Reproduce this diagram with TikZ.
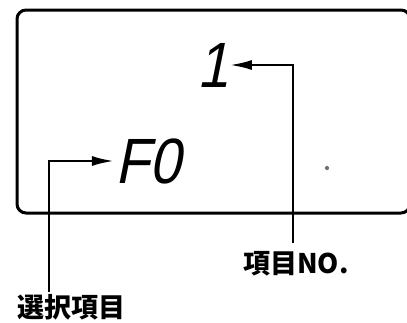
\documentclass[tikz,border=0pt]{standalone}
\usepackage{fontspec}
\newfontfamily\jpfont{Noto Sans CJK JP Black}
\newfontfamily\lcdfont[FakeSlant=0.2,FakeStretch=0.88]{Liberation Sans}
\usetikzlibrary{arrows.meta,positioning}
\tikzset{
  panel/.style={draw=black, line width=3pt, rounded corners=9pt},
  lcd/.style={font=\lcdfont\fontsize{64}{64}\selectfont, inner sep=1pt},
  tag/.style={font=\jpfont\fontsize{27}{27}\selectfont, inner sep=0pt},
  arr/.style={-{Latex[length=22pt,width=10pt]}, line width=2.4pt}
}
\begin{document}
\begin{tikzpicture}[x=1pt, y=-1pt]
  \useasboundingbox (0,0) rectangle (407,322);

  % LCD panel (runs off the right edge)
  \draw[panel] (17,10) rectangle (410,213);

  % display contents
  \node[lcd] (num) at (213,65) {1};
  \node[lcd] (sel) at (148,161) {F0};
  \node[circle, fill=black!55, inner sep=1.5pt] (dot) at (327,168) {};

  % labels below the panel
  \node[tag] (lblno) at (296,264) {項目NO.};
  \node[tag] (lblsel) at (71,307) {選択項目};

  \coordinate (nofoot) at (293,243);
  \coordinate (selfoot) at (49,292);

  \draw[arr] (nofoot) |- (num.east);
  \draw[arr] (selfoot) |- (sel.west);

\end{tikzpicture}
\end{document}
